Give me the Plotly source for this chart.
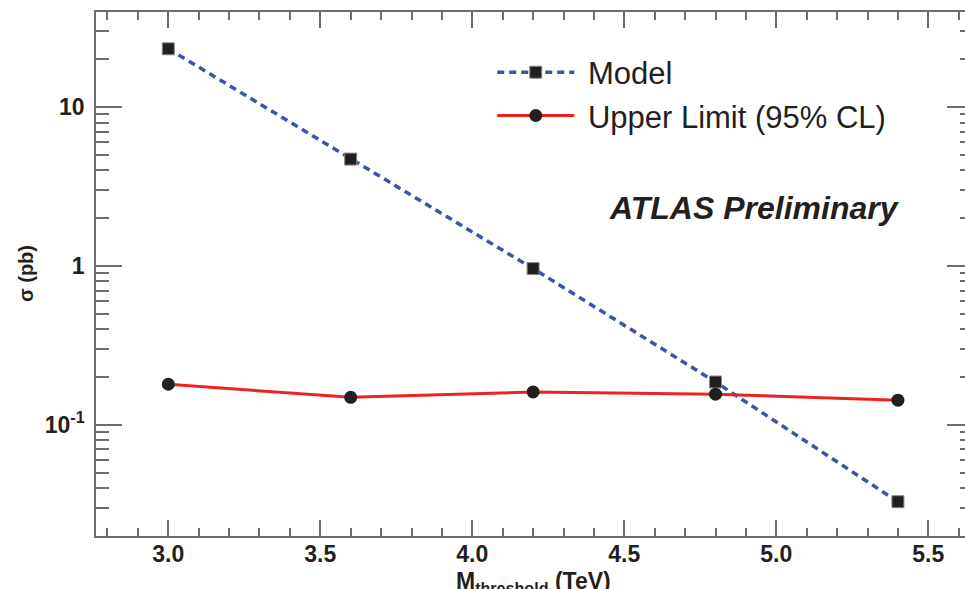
import plotly.graph_objects as go

mass = [3.0, 3.6, 4.2, 4.8, 5.4]
model = [23.3, 4.71, 0.963, 0.186, 0.0328]
upper_limit = [0.180, 0.149, 0.161, 0.156, 0.143]

y_tickvals = [0.1, 1, 10]
y_ticktext = ["10<sup>-1</sup>", "1", "10"]
x_tickvals = [3.0, 3.5, 4.0, 4.5, 5.0, 5.5]
x_ticktext = ["3.0", "3.5", "4.0", "4.5", "5.0", "5.5"]

FONT = "Liberation Sans, Arial, sans-serif"
AX = "#6e6e6e"
TXT = "#231f20"

fig = go.Figure()
fig.add_trace(go.Scatter(
    x=mass, y=model, mode="lines+markers", name="&nbsp;Model",
    line=dict(color="#3a55a8", width=3.5, dash="7px,5px"),
    marker=dict(symbol="square", size=12, color="#231f20", line=dict(color="#8a8a8a", width=1)),
))
fig.add_trace(go.Scatter(
    x=mass, y=upper_limit, mode="lines+markers", name="&nbsp;Upper Limit (95% CL)",
    line=dict(color="#ee2222", width=3),
    marker=dict(symbol="circle", size=13, color="#231f20"),
))
# invisible trace to carry the right-hand tick axis
fig.add_trace(go.Scatter(
    x=mass, y=model, yaxis="y2", mode="lines", opacity=0,
    showlegend=False, hoverinfo="skip",
))

fig.update_layout(
    width=965, height=589,
    margin=dict(l=96, r=0, t=12, b=53),
    paper_bgcolor="white", plot_bgcolor="white",
    font=dict(family=FONT, color=TXT),
    showlegend=True,
    legend=dict(
        x=0.456, y=0.936, xanchor="left", yanchor="top",
        bgcolor="rgba(0,0,0,0)", borderwidth=0,
        font=dict(size=31, family=FONT, color=TXT),
        itemwidth=77,
    ),
    xaxis=dict(
        range=[2.7622, 5.6207],
        tickmode="array", tickvals=x_tickvals, ticktext=x_ticktext,
        ticks="inside", ticklen=16, tickwidth=1.5, tickcolor=AX,
        showline=True, linecolor=AX, linewidth=1.5, mirror="ticks",
        showgrid=False, zeroline=False,
        ticklabelstandoff=-3,
        tickfont=dict(size=23, family=FONT, color=TXT, weight="bold"),
        minor=dict(dtick=0.1, tick0=0, ticks="inside", ticklen=8, tickwidth=1.5, tickcolor=AX, showgrid=False),
    ),
    yaxis=dict(
        type="log", range=[-1.70, 1.599],
        tickmode="array", tickvals=y_tickvals, ticktext=y_ticktext,
        ticks="inside", ticklen=26, tickwidth=1.5, tickcolor=AX,
        showline=True, linecolor=AX, linewidth=1.5,
        showgrid=False, zeroline=False,
        ticklabelstandoff=5,
        tickfont=dict(size=23, family=FONT, color=TXT, weight="bold"),
        minor=dict(dtick="D1", ticks="inside", ticklen=13, tickwidth=1.5, tickcolor=AX, showgrid=False),
    ),
    yaxis2=dict(
        type="log", range=[-1.70, 1.599], overlaying="y", side="right", anchor="x",
        tickmode="array", tickvals=y_tickvals,
        ticks="inside", ticklen=18, tickwidth=1.5, tickcolor=AX,
        showline=False, showgrid=False, zeroline=False, showticklabels=False,
        minor=dict(dtick="D1", ticks="inside", ticklen=5, tickwidth=1.5, tickcolor=AX, showgrid=False),
    ),
)

fig.add_annotation(
    xref="paper", yref="paper", x=0, y=0.5, xshift=-70,
    text="<b>σ (pb)</b>", textangle=-90, showarrow=False,
    xanchor="center", yanchor="middle",
    font=dict(size=20, family=FONT, color=TXT),
)
fig.add_annotation(
    xref="x", yref="paper", x=4.2, y=0, yshift=-30,
    text="<b>M<sub>threshold</sub> (TeV)</b>", showarrow=False,
    xanchor="center", yanchor="top",
    font=dict(size=23, family=FONT, color=TXT),
)
fig.add_annotation(
    xref="paper", yref="paper", x=0.9275, y=0.626,
    text="<b><i>ATLAS Preliminary</i></b>", showarrow=False,
    xanchor="right", yanchor="middle",
    font=dict(size=32, family=FONT, color=TXT),
)

fig.write_html("out.html")
